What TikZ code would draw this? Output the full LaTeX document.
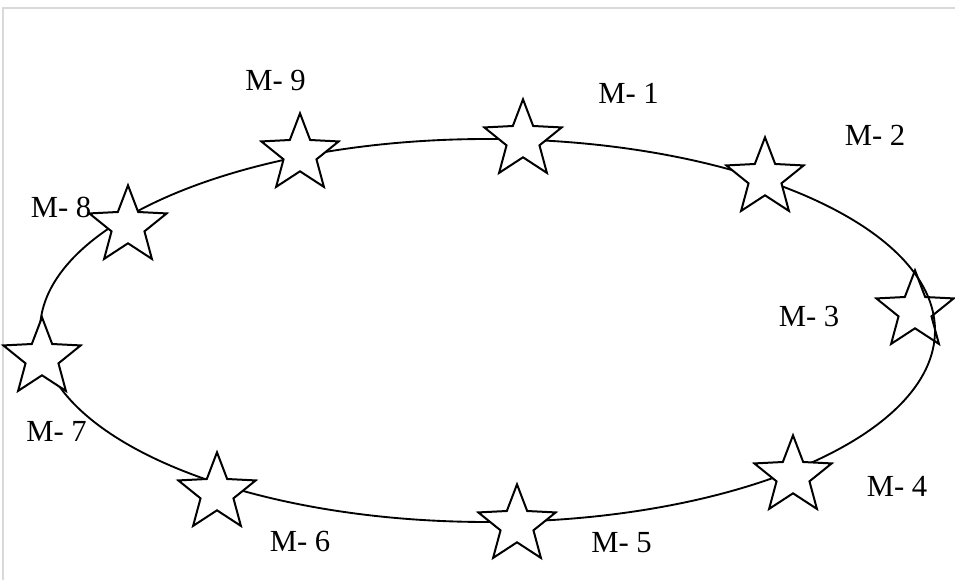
\documentclass[tikz,border=0pt]{standalone}
\usepackage{fontspec}
\setmainfont{Liberation Serif}
\usetikzlibrary{shapes.geometric}
\begin{document}
\begin{tikzpicture}[x=0.75pt,y=-0.75pt,
  mstar/.style={star, star points=5, star point ratio=2.35, draw=black, fill=white,
    line width=1.5pt, inner sep=0pt, minimum size=61pt, shape border rotate=0},
  mlabel/.style={font=\fontsize{23pt}{26pt}\selectfont, inner sep=0pt, text=black},
  frame/.style={draw=black!15, line width=1.5pt}]
\useasboundingbox (0,0) rectangle (955,580);
\coordinate (tl) at (3,8);
\coordinate (tr) at (955,8);
\coordinate (bl) at (3,580);
\draw[frame] (tr) -- (tl) -- (bl);
% star drawn below the ring
\node[mstar] (s3) at (915,311) {};
\coordinate (c) at (487.5,330.5);
\draw[line width=1.4pt] (c) ellipse [x radius=447.5, y radius=191.5];
\node[mstar] (s1) at (523,140) {};
\node[mstar] (s2) at (765,178) {};
\node[mstar] (s4) at (793,476) {};
\node[mstar] (s5) at (517,525) {};
\node[mstar] (s6) at (217,493) {};
\node[mstar] (s7) at (42,358) {};
\node[mstar] (s8) at (128,226) {};
\node[mstar] (s9) at (300,154) {};
\node[mlabel] (l1) at (628.5,93.5) {M- 1};
\node[mlabel] (l2) at (875,135) {M- 2};
\node[mlabel] (l3) at (809,316) {M- 3};
\node[mlabel] (l4) at (897,486) {M- 4};
\node[mlabel] (l5) at (621.5,543) {M- 5};
\node[mlabel] (l6) at (300,541) {M- 6};
\node[mlabel] (l7) at (56.5,431) {M- 7};
\node[mlabel] (l8) at (61,207) {M- 8};
\node[mlabel] (l9) at (275.5,81) {M- 9};
\end{tikzpicture}
\end{document}
